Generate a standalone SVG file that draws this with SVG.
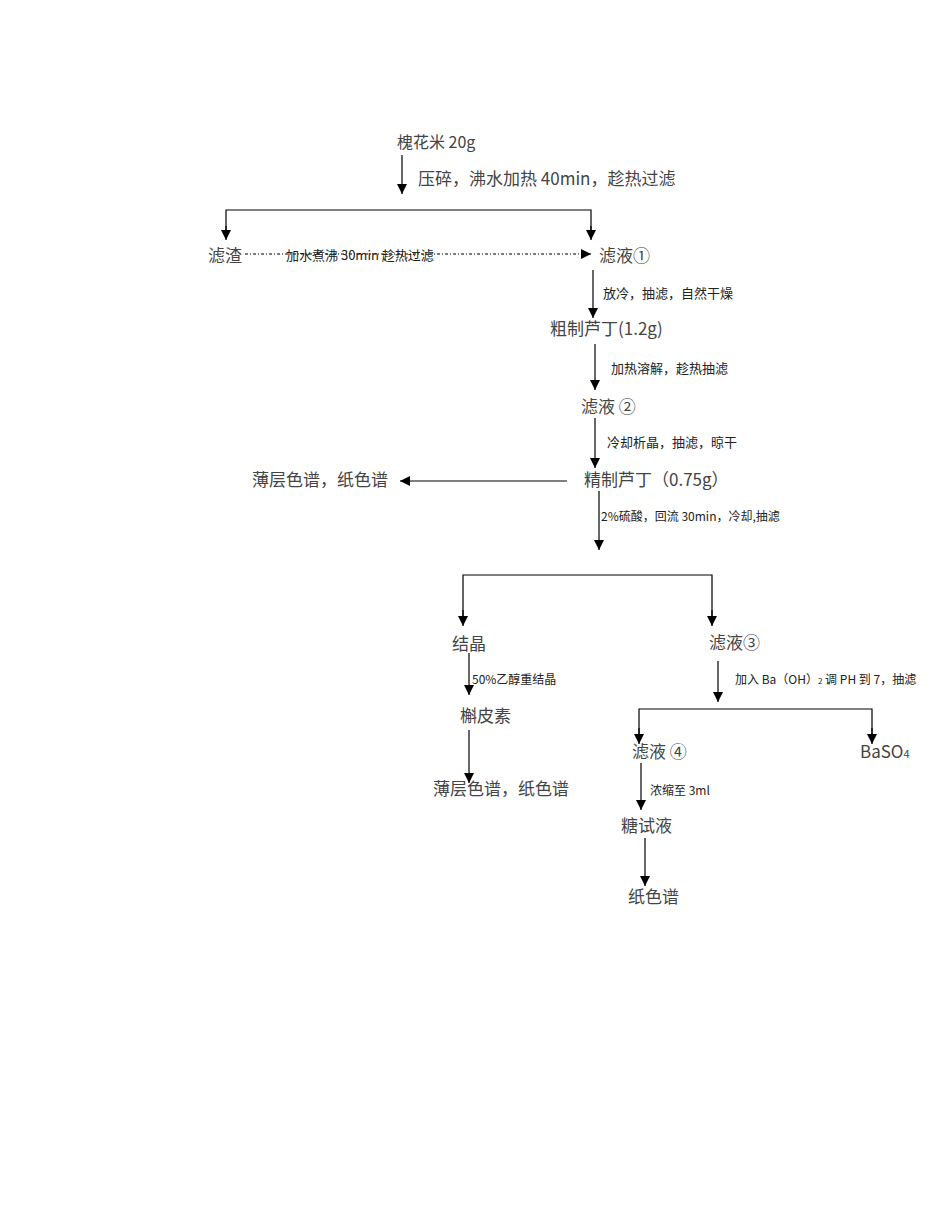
<svg xmlns="http://www.w3.org/2000/svg" width="950" height="1230" viewBox="0 0 950 1230">
<defs>
<marker id="ah" markerWidth="10" markerHeight="12" refX="10" refY="5" orient="auto" markerUnits="userSpaceOnUse">
<path d="M0,0 L10,5 L0,10 Z" fill="#000"/>
</marker>
<style>
.n{font-family:"Noto Sans CJK SC","Liberation Sans",sans-serif;font-size:17px;fill:#444}
.l{font-family:"Noto Sans CJK SC","Liberation Sans",sans-serif;font-size:13px;fill:#222}
.s{font-family:"Noto Sans CJK SC","Liberation Sans",sans-serif;font-size:12px;fill:#222}
.c{stroke:#000;stroke-width:1.2;fill:none}
.a{stroke:#000;stroke-width:1.2;fill:none;marker-end:url(#ah)}
</style>
</defs>
<rect width="950" height="1230" fill="#fff"/>
<g id="connectors">
<line class="a" x1="402" y1="155" x2="402" y2="194"/>
<polyline class="c" points="226,238 226,210 591,210 591,238"/>
<line class="a" x1="226" y1="226" x2="226" y2="240"/>
<line class="a" x1="591" y1="226" x2="591" y2="240"/>
<line class="a" x1="245" y1="254" x2="591" y2="254" stroke-dasharray="3,2,1,2"/>
<line class="a" x1="593" y1="270" x2="593" y2="318"/>
<line class="a" x1="595" y1="344" x2="595" y2="390"/>
<line class="a" x1="595" y1="418" x2="595" y2="468"/>
<line class="a" x1="567" y1="481" x2="400" y2="481"/>
<line class="a" x1="599" y1="491" x2="599" y2="550"/>
<polyline class="c" points="463,620 463,575 712,575 712,620"/>
<line class="a" x1="463" y1="610" x2="463" y2="626"/>
<line class="a" x1="712" y1="610" x2="712" y2="626"/>
<line class="a" x1="469" y1="653" x2="469" y2="695"/>
<line class="a" x1="469" y1="730" x2="469" y2="783"/>
<line class="a" x1="718" y1="661" x2="718" y2="702"/>
<polyline class="c" points="639,738 639,709 872,709 872,738"/>
<line class="a" x1="639" y1="728" x2="639" y2="744"/>
<line class="a" x1="872" y1="728" x2="872" y2="744"/>
<line class="a" x1="641" y1="763" x2="641" y2="810"/>
<line class="a" x1="645" y1="838" x2="645" y2="886"/>
</g>
<g id="labels">
<text class="n" x="418" y="185">压碎，沸水加热 40min，趁热过滤</text>
<text class="l" x="286" y="260">加水煮沸 30min 趁热过滤</text>
<text class="l" x="603" y="298">放冷，抽滤，自然干燥</text>
<text class="l" x="611" y="373">加热溶解，趁热抽滤</text>
<text class="l" x="607" y="447">冷却析晶，抽滤，晾干</text>
<text class="s" x="601" y="521">2%硫酸，回流 30min，冷却,抽滤</text>
<text class="s" x="472" y="684">50%乙醇重结晶</text>
<text class="s" x="735" y="684">加入 Ba（OH）<tspan font-size="8">2</tspan> 调 PH 到 7，抽滤</text>
<text class="s" x="650" y="795">浓缩至 3ml</text>
</g>
<g id="n1"><text class="n" x="397" y="148" style="font-size:16px">槐花米 20g</text></g>
<g id="n2"><text class="n" x="208" y="262">滤渣</text></g>
<g id="n3"><text class="n" x="599" y="262">滤液①</text></g>
<g id="n4"><text class="n" x="550" y="335">粗制芦丁(1.2g)</text></g>
<g id="n5"><text class="n" x="581" y="413">滤液 ②</text></g>
<g id="n6"><text class="n" x="584" y="486">精制芦丁（0.75g）</text></g>
<g id="n7"><text class="n" x="252" y="486">薄层色谱，纸色谱</text></g>
<g id="n8"><text class="n" x="452" y="650">结晶</text></g>
<g id="n9"><text class="n" x="709" y="649">滤液③</text></g>
<g id="n10"><text class="n" x="460" y="722">槲皮素</text></g>
<g id="n11"><text class="n" x="433" y="795">薄层色谱，纸色谱</text></g>
<g id="n12"><text class="n" x="632" y="758">滤液 ④</text></g>
<g id="n13"><text class="n" x="860" y="758">BaSO<tspan font-size="11">4</tspan></text></g>
<g id="n14"><text class="n" x="621" y="832">糖试液</text></g>
<g id="n15"><text class="n" x="628" y="903">纸色谱</text></g>
</svg>
